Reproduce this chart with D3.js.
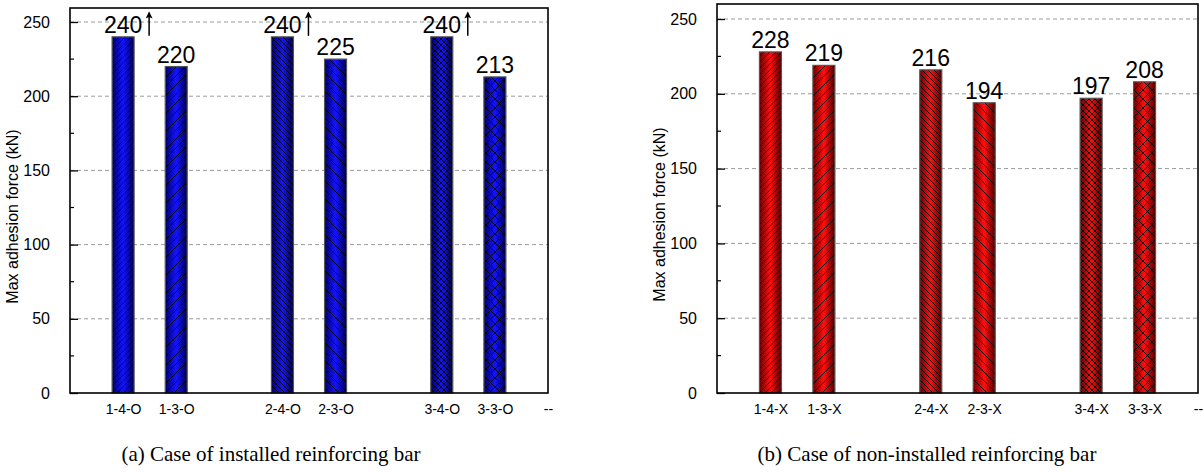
<!DOCTYPE html>
<html>
<head>
<meta charset="utf-8">
<script src="https://cdn.jsdelivr.net/npm/d3@7"></script>
<style>
  body { margin: 0; background: #fff; }
  svg { display: block; }
  text { font-family: Arial, "Liberation Sans", sans-serif; fill: #000; }
  .caption { font-family: "Times New Roman", "Liberation Serif", serif; }
</style>
</head>
<body>
<svg id="chart" width="1203" height="472"></svg>
<script>
// ---- data -----------------------------------------------------------------
const slotsA = [1, 2, 4, 5, 7, 8];
const labelsA = ['1-4-O', '1-3-O', '2-4-O', '2-3-O', '3-4-O', '3-3-O'];
const valuesA = [240, 220, 240, 225, 240, 213];
const overA = [true, false, true, false, true, false];   // value exceeded the test limit

const slotsB = [1, 2, 4, 5, 7, 8];
const labelsB = ['1-4-X', '1-3-X', '2-4-X', '2-3-X', '3-4-X', '3-3-X'];
const valuesB = [228, 219, 216, 194, 197, 208];
const overB = [false, false, false, false, false, false];

const hatches = ['fwdDense', 'fwdSparse', 'backDense', 'backSparse', 'crossDense', 'crossSparse'];
const endSlot = 9, endLabel = '--';
const yTicks = [0, 50, 100, 150, 200, 250];
const yMinor = [25, 75, 125, 175, 225];

const panels = [
  { id: 'a', slots: slotsA, labels: labelsA, values: valuesA, over: overA,
    caption: '(a) Case of installed reinforcing bar', captionX: 271,
    box: { left: 70, right: 548, top: 8, bottom: 393, y250: 22 },
    colors: ['#00006a', '#1414ff', '#00004a'] },
  { id: 'b', slots: slotsB, labels: labelsB, values: valuesB, over: overB,
    caption: '(b) Case of non-installed reinforcing bar', captionX: 927,
    box: { left: 717, right: 1198, top: 4, bottom: 393, y250: 19 },
    colors: ['#700000', '#ff1010', '#500000'] }
];

const svg = d3.select('#chart');
const defs = svg.append('defs');

defs.append('marker')
  .attr('id', 'arrow').attr('viewBox', '0 0 10 10')
  .attr('refX', 8).attr('refY', 5)
  .attr('markerWidth', 10).attr('markerHeight', 7)
  .attr('markerUnits', 'userSpaceOnUse')
  .attr('orient', 'auto')
  .append('path').attr('d', 'M0,0 L10,5 L0,10 L2,5 Z').attr('fill', '#000');

// hatch patterns drawn on top of the gradient
function hatch(id, size, kind) {
  const p = defs.append('pattern')
    .attr('id', id).attr('patternUnits', 'userSpaceOnUse')
    .attr('width', size).attr('height', size);
  const s = size;
  const g = p.append('g').attr('stroke', '#000').attr('stroke-width', 0.9);
  if (kind === 'fwd' || kind === 'cross') {
    g.append('path').attr('d', `M0,${s} L${s},0 M${-s / 2},${s / 2} L${s / 2},${-s / 2} M${s / 2},${s * 1.5} L${s * 1.5},${s / 2}`);
  }
  if (kind === 'back' || kind === 'cross') {
    g.append('path').attr('d', `M0,0 L${s},${s} M${-s / 2},${s / 2} L${s / 2},${s * 1.5} M${s / 2},${-s / 2} L${s * 1.5},${s / 2}`);
  }
}
hatch('fwdDense', 6, 'fwd');
hatch('fwdSparse', 9, 'fwd');
hatch('backDense', 6, 'back');
hatch('backSparse', 9, 'back');
hatch('crossDense', 6, 'cross');
hatch('crossSparse', 9, 'cross');

panels.forEach(P => {
  const b = P.box;
  const x = d3.scaleLinear().domain([0, endSlot]).range([b.left, b.right]);
  const y = d3.scaleLinear().domain([0, 250]).range([b.bottom, b.y250]);
  const barW = 22;

  const grad = defs.append('linearGradient')
    .attr('id', 'grad' + P.id).attr('x1', '0%').attr('x2', '100%').attr('y1', '0%').attr('y2', '0%');
  grad.append('stop').attr('offset', '0%').attr('stop-color', P.colors[0]);
  grad.append('stop').attr('offset', '50%').attr('stop-color', P.colors[1]);
  grad.append('stop').attr('offset', '100%').attr('stop-color', P.colors[2]);

  const g = svg.append('g');

  // dashed grid
  g.append('g').selectAll('line')
    .data(yTicks.filter(t => t > 0))
    .join('line')
    .attr('x1', b.left).attr('x2', b.right)
    .attr('y1', d => y(d)).attr('y2', d => y(d))
    .attr('stroke', '#9a9a9a').attr('stroke-width', 1)
    .attr('stroke-dasharray', '4,3');

  // y axis: ticks inward, labels outside
  const yAxis = d3.axisLeft(y).tickValues(yTicks).tickSize(-8).tickPadding(20);
  const ya = g.append('g').attr('transform', `translate(${b.left},0)`).call(yAxis);
  ya.attr('font-size', null).attr('font-family', null);
  ya.select('.domain').remove();
  ya.selectAll('.tick line').attr('stroke', '#000').attr('stroke-width', 1.3);
  ya.selectAll('.tick text').style('font-size', '16px');
  g.append('g').selectAll('line')
    .data(yMinor).join('line')
    .attr('x1', b.left).attr('x2', b.left + 4)
    .attr('y1', d => y(d)).attr('y2', d => y(d))
    .attr('stroke', '#000').attr('stroke-width', 1.2);

  // x tick labels
  const xa = d3.axisBottom(x)
    .tickValues(P.slots.concat([endSlot]))
    .tickFormat(d => d === endSlot ? endLabel : P.labels[P.slots.indexOf(d)])
    .tickSize(0).tickPadding(11);
  const xg = g.append('g').attr('transform', `translate(0,${b.bottom})`).call(xa);
  xg.attr('font-size', null).attr('font-family', null);
  xg.select('.domain').remove();
  xg.selectAll('.tick text').style('font-size', '14px');

  // bars
  const data = P.values.map((v, i) => ({ v, slot: P.slots[i], hatch: hatches[i], over: P.over[i] }));
  const bars = g.append('g').selectAll('g').data(data).join('g');
  bars.append('rect')
    .attr('x', d => x(d.slot) - barW / 2).attr('width', barW)
    .attr('y', d => y(d.v)).attr('height', d => y(0) - y(d.v))
    .attr('fill', `url(#grad${P.id})`);
  bars.append('rect')
    .attr('x', d => x(d.slot) - barW / 2).attr('width', barW)
    .attr('y', d => y(d.v)).attr('height', d => y(0) - y(d.v))
    .attr('fill', d => `url(#${d.hatch})`)
    .attr('stroke', '#555').attr('stroke-width', 1.2);

  bars.append('text')
    .attr('x', d => x(d.slot)).attr('y', d => y(d.v) - 4)
    .attr('text-anchor', 'middle').style('font-size', '23px')
    .text(d => d.v);

  bars.filter(d => d.over).append('line')
    .attr('x1', d => x(d.slot) + 26).attr('x2', d => x(d.slot) + 26)
    .attr('y1', d => y(d.v) - 1).attr('y2', d => y(d.v) - 24)
    .attr('stroke', '#000').attr('stroke-width', 1.5)
    .attr('marker-end', 'url(#arrow)');

  // frame
  g.append('rect')
    .attr('x', b.left).attr('y', b.top)
    .attr('width', b.right - b.left).attr('height', b.bottom - b.top)
    .attr('fill', 'none').attr('stroke', '#000').attr('stroke-width', 1.6);

  // y title
  g.append('text')
    .attr('transform', `translate(${b.left - 52},${(b.top + b.bottom) / 2 + 16}) rotate(-90)`)
    .attr('text-anchor', 'middle').style('font-size', '16px')
    .text('Max adhesion force (kN)');

  // caption
  g.append('text').attr('class', 'caption')
    .attr('x', P.captionX).attr('y', 461)
    .attr('text-anchor', 'middle').style('font-size', '21px')
    .text(P.caption);
});
</script>
</body>
</html>
